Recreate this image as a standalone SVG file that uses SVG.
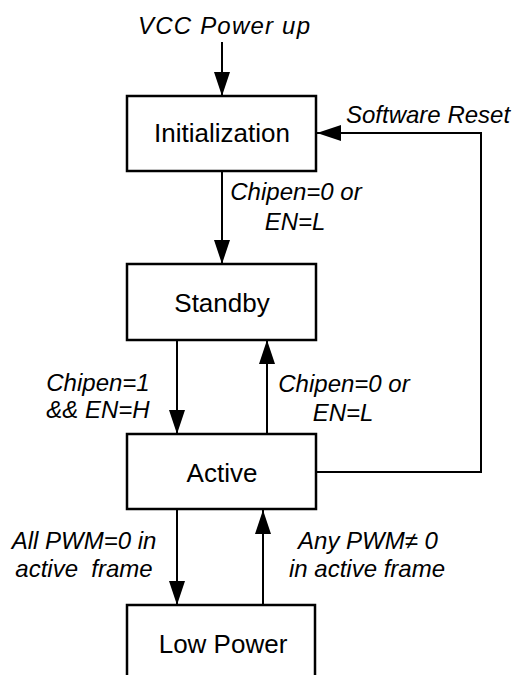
<svg xmlns="http://www.w3.org/2000/svg" width="512" height="675" viewBox="0 0 512 675">
<style>
.box{fill:#fff;stroke:#000;stroke-width:2.5}
.lbl{font-family:"Liberation Sans",Arial,sans-serif;font-size:26px;fill:#000;text-anchor:middle}
.it{font-family:"Liberation Sans",Arial,sans-serif;font-size:24px;font-style:italic;fill:#000}
.c{text-anchor:middle}
.ln{fill:none;stroke:#000;stroke-width:2}
</style>
<defs>
<marker id="ah" markerUnits="userSpaceOnUse" markerWidth="24" markerHeight="16" refX="24" refY="8" orient="auto">
<path d="M0,0 L24,8 L0,16 z" fill="#000"/>
</marker>
</defs>
<rect width="512" height="675" fill="#fff"/>
<g id="connectors">
<line class="ln" x1="222" y1="42" x2="222" y2="96" marker-end="url(#ah)"/>
<line class="ln" x1="222" y1="171" x2="222" y2="264" marker-end="url(#ah)"/>
<line class="ln" x1="177" y1="340" x2="177" y2="434" marker-end="url(#ah)"/>
<line class="ln" x1="267" y1="434" x2="267" y2="340" marker-end="url(#ah)"/>
<line class="ln" x1="177" y1="510" x2="177" y2="605" marker-end="url(#ah)"/>
<line class="ln" x1="263" y1="605" x2="263" y2="510" marker-end="url(#ah)"/>
<polyline class="ln" points="316,472 481,472 481,133 317,133" marker-end="url(#ah)"/>
<text class="it" x="224" y="34" text-anchor="middle" textLength="172" lengthAdjust="spacing">VCC Power up</text>
<text class="it" x="346" y="123">Software Reset</text>
<text class="it c" x="296" y="200">Chipen=0 or</text>
<text class="it c" x="295" y="230">EN=L</text>
<text class="it c" x="98" y="391">Chipen=1</text>
<text class="it c" x="98" y="418">&amp;&amp; EN=H</text>
<text class="it c" x="344" y="392">Chipen=0 or</text>
<text class="it c" x="343" y="421">EN=L</text>
<text class="it c" x="84" y="549">All PWM=0 in</text>
<text class="it c" x="84" y="577" xml:space="preserve">active  frame</text>
<text class="it c" x="368" y="549">Any PWM≠ 0</text>
<text class="it c" x="367" y="577">in active frame</text>
</g>
<g id="initialization">
<rect class="box" x="127" y="96" width="189" height="75"/>
<text class="lbl" x="222" y="142">Initialization</text>
</g>
<g id="standby">
<rect class="box" x="127" y="264" width="189" height="76"/>
<text class="lbl" x="222" y="312">Standby</text>
</g>
<g id="active">
<rect class="box" x="127" y="434" width="189" height="75"/>
<text class="lbl" x="222" y="482">Active</text>
</g>
<g id="lowpower">
<rect class="box" x="127" y="605" width="188" height="80"/>
<text class="lbl" x="223" y="653">Low Power</text>
</g>
</svg>
